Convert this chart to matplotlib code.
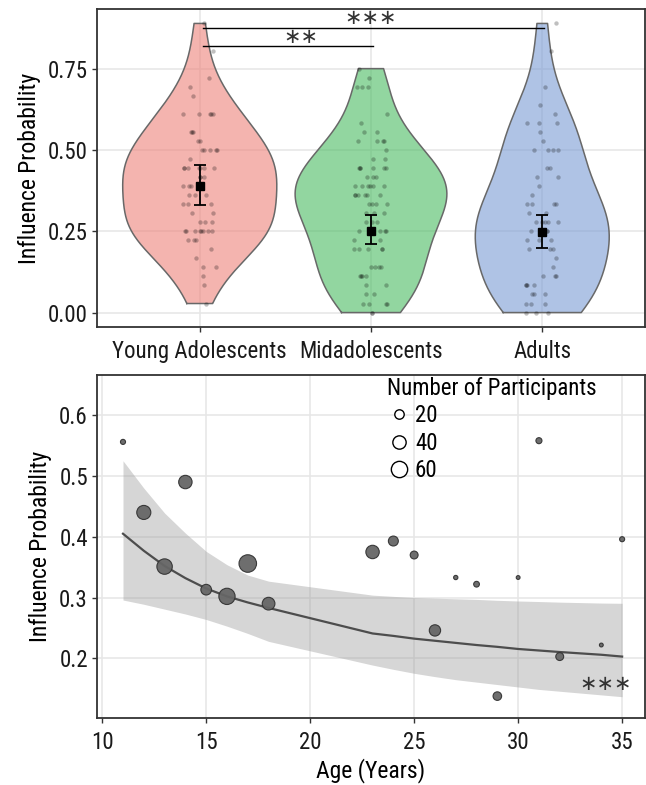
import numpy as np
import matplotlib
matplotlib.use("Agg")
import matplotlib.pyplot as plt
from matplotlib.lines import Line2D
from matplotlib import font_manager as fm

_avail = {f.name for f in fm.fontManager.ttflist}
_pref = ['Nimbus Sans Narrow', 'Liberation Sans Narrow', 'Arial Narrow', 'Roboto Condensed',
         'Archivo Narrow', 'PT Sans Narrow', 'Pragati Narrow', 'Fira Sans Condensed',
         'IBM Plex Sans Condensed', 'Roboto']
FONT = next(f for f in _pref if f in _avail)
plt.rcParams['font.family'] = [FONT, 'DejaVu Sans']

# ---------------- data: top panel (influence probability, trials out of 36) ----------------
groups = ["Young Adolescents", "Midadolescents", "Adults"]
n_trials = 36
young_k = [32, 29, 26, 25, 24, 22, 22, 22, 22, 22, 20, 20, 20, 19, 19, 18, 18, 18, 18, 18, 17,
           16, 16, 16, 16, 16, 16, 16, 15, 15, 15, 14, 14, 14, 13, 13, 13, 12, 12, 12, 11, 11,
           10, 10, 10, 9, 9, 9, 9, 9, 9, 9, 9, 8, 8, 8, 7, 6, 5, 5, 4, 3, 1]
mid_k = [27, 26, 25, 25, 25, 22, 21, 20, 20, 19, 19, 19, 19, 18, 17, 17, 16, 16, 16, 16, 16, 16,
         15, 15, 15, 14, 14, 14, 14, 14, 14, 13, 13, 13, 13, 13, 13, 12, 12, 12, 12, 11, 11, 11,
         10, 10, 10, 9, 9, 9, 9, 8, 8, 7, 7, 7, 7, 7, 5, 5, 5, 5, 4, 4, 4, 4, 3, 3, 2, 2,
         1, 1, 1, 1, 0, 0]
adult_k = [32, 29, 25, 23, 22, 21, 21, 21, 20, 19, 18, 18, 18, 18, 16, 16, 15, 15, 14, 13,
           12, 12, 12, 12, 11, 11, 10, 10, 10, 10, 10, 9, 9, 9, 9, 8, 8, 8, 7, 7, 7, 6, 5,
           4, 4, 4, 3, 3, 3, 3, 2, 2, 2, 1, 1, 1, 0, 0, 0]
group_means = [0.389, 0.252, 0.247]
group_lo = [0.330, 0.210, 0.200]
group_hi = [0.453, 0.300, 0.300]
violin_colors = ["#EE827A", "#49BB61", "#7B9BD5"]

# ---------------- data: bottom panel ----------------
ages = [11, 12, 13, 14, 15, 16, 17, 18, 23, 24, 25, 26, 27, 28, 29, 30, 31, 32, 34, 35]
age_infl = [0.556, 0.440, 0.351, 0.490, 0.313, 0.302, 0.356, 0.290, 0.375, 0.393, 0.370, 0.246,
            0.333, 0.322, 0.138, 0.333, 0.558, 0.203, 0.222, 0.396]
age_n = [7, 54, 65, 49, 31, 72, 84, 44, 49, 27, 17, 35, 5, 9, 20, 4, 10, 17, 4, 7]
fit_age = [11, 12, 13, 14, 15, 16, 17, 18, 23, 24, 25, 26, 27, 28, 29, 30, 31, 32, 34, 35]
fit_val = [0.405, 0.377, 0.352, 0.332, 0.315, 0.302, 0.292, 0.283, 0.241, 0.237, 0.2325, 0.229,
           0.2255, 0.222, 0.219, 0.2155, 0.213, 0.2105, 0.206, 0.203]
fit_hi = [0.525, 0.480, 0.439, 0.406, 0.376, 0.354, 0.337, 0.327, 0.304, 0.302, 0.300, 0.299,
          0.298, 0.297, 0.2955, 0.2944, 0.2935, 0.2925, 0.291, 0.2906]
fit_lo = [0.296, 0.289, 0.281, 0.273, 0.264, 0.253, 0.241, 0.228, 0.189, 0.182, 0.1755, 0.170,
          0.165, 0.161, 0.157, 0.153, 0.149, 0.146, 0.140, 0.137]
legend_sizes = [20, 40, 60]

GRID = "#E6E6E6"
SPINE = "#333333"
FS = 16.5
FS_T = 17

fig = plt.figure(figsize=(6.46, 7.85), dpi=100)
ax1 = fig.add_axes([97 / 646, 1 - 327 / 785, 548 / 646, 318 / 785])
ax2 = fig.add_axes([97 / 646, 1 - 718 / 785, 548 / 646, 343 / 785])


def style(ax):
    ax.set_axisbelow(True)
    ax.grid(True, color=GRID, lw=1.1)
    for s in ax.spines.values():
        s.set_color(SPINE)
        s.set_linewidth(1.3)
    ax.tick_params(colors=SPINE, length=3.5, width=1.0, labelsize=FS, labelcolor="#1A1A1A",
                   pad=3)
    ax.tick_params(axis="x", pad=6)


# ---------------- top: violins ----------------
style(ax1)
data = [np.array(k) / n_trials for k in (young_k, mid_k, adult_k)]


def kde(v, grid, adjust=1.25):
    n = len(v)
    sd = np.std(v, ddof=1)
    iqr = np.subtract(*np.percentile(v, [75, 25]))
    bw = adjust * 0.9 * min(sd, iqr / 1.34) * n ** (-0.2)
    z = (grid[:, None] - v[None, :]) / bw
    return np.exp(-0.5 * z ** 2).sum(axis=1) / (n * bw * np.sqrt(2 * np.pi))


dens = []
for v in data:
    g = np.linspace(v.min(), v.max(), 512)
    dens.append((g, kde(v, g)))
dmax = max(d.max() for _, d in dens)

rng = np.random.default_rng(7)
for i, ((g, d), v, col) in enumerate(zip(dens, data, violin_colors)):
    w = 0.45 * d / dmax
    ax1.fill_betweenx(g, i - w, i + w, facecolor=col, alpha=0.6, edgecolor="none", zorder=2)
    ax1.plot(np.r_[i - w, (i + w)[::-1], (i - w)[0]], np.r_[g, g[::-1], g[0]],
             color="#686868", lw=1.1, zorder=3)
    jx = i + rng.uniform(-0.1, 0.1, len(v))
    ax1.scatter(jx, v, s=10, color="black", alpha=0.25, lw=0, zorder=4)
    ax1.errorbar(i, group_means[i],
                 yerr=[[group_means[i] - group_lo[i]], [group_hi[i] - group_means[i]]],
                 fmt="s", color="black", ms=5.5, capsize=4, elinewidth=1.3, capthick=1.3, zorder=5)

ax1.set_xlim(-0.6, 2.6)
ax1.set_ylim(-0.0444, 0.9333)
ax1.set_xticks(range(3))
ax1.set_xticklabels(groups)
ax1.set_yticks([0, 0.25, 0.5, 0.75])
ax1.set_yticklabels(["0.00", "0.25", "0.50", "0.75"])
ax1.set_ylabel("Influence Probability", fontsize=FS_T, labelpad=5)

# significance brackets
ax1.plot([0.02, 2.01], [0.875, 0.875], color="black", lw=1.0, zorder=6)
ax1.plot([0.02, 1.01], [0.821, 0.821], color="black", lw=1.0, zorder=6)
ax1.text(1.0, 0.905, "∗∗∗", ha="center", va="center", fontsize=15, color="#333333",
         family=["DejaVu Sans"])
ax1.text(0.59, 0.848, "∗∗", ha="center", va="center", fontsize=15, color="#333333",
         family=["DejaVu Sans"])

# ---------------- bottom: age scatter ----------------
style(ax2)
size_k = 1.9
ax2.fill_between(fit_age, fit_lo, fit_hi, color="#999999", alpha=0.4, lw=0, zorder=2)
ax2.plot(fit_age, fit_val, color="#4D4D4D", lw=1.6, zorder=3)
ax2.scatter(ages, age_infl, s=np.array(age_n) * size_k, facecolor="#666666",
            edgecolor="#333333", lw=0.8, alpha=0.95, zorder=4)
ax2.text(34.2, 0.158, "∗∗∗", ha="center", va="center", fontsize=15, color="#333333",
         family=["DejaVu Sans"])

ax2.set_xlim(9.75, 36.1)
ax2.set_ylim(0.102, 0.666)
ax2.set_xticks([10, 15, 20, 25, 30, 35])
ax2.set_yticks([0.2, 0.3, 0.4, 0.5, 0.6])
ax2.set_xlabel("Age (Years)", fontsize=FS_T, labelpad=3)
ax2.set_ylabel("Influence Probability", fontsize=FS_T, labelpad=5)

handles = [Line2D([], [], ls="none", marker="o", ms=np.sqrt(s * size_k) * 1.1, mfc="white",
                  mec="black", mew=1.0) for s in legend_sizes]
leg = ax2.legend(handles, [str(s) for s in legend_sizes], title="Number of Participants",
                 loc="upper left", bbox_to_anchor=(0.505, 1.035), frameon=False,
                 fontsize=FS, title_fontsize=FS, handletextpad=0.2,
                 labelspacing=0.2, handlelength=1.0, borderaxespad=0.2)
leg._legend_box.align = "left"

fig.savefig("out.png", dpi=100)
